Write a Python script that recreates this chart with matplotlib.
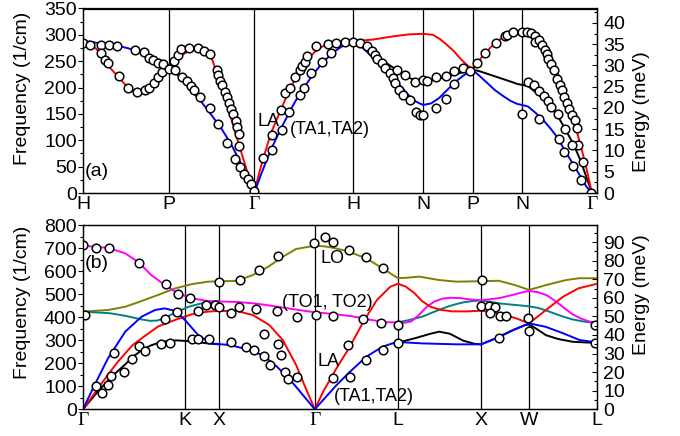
import matplotlib
matplotlib.use("Agg")
import matplotlib.pyplot as plt
from matplotlib.ticker import MultipleLocator

plt.rcParams['font.family'] = ['Liberation Sans', 'DejaVu Sans']

CM_PER_MEV = 8.0655

# ---------------- panel (a): BCC path ----------------
top_ticks = [0.0, 0.866, 1.732, 2.732, 3.439, 3.939, 4.439, 5.146]
top_labels = ['H', 'P', 'Γ', 'H', 'N', 'P', 'N', 'Γ']

top_la_x = [0.00, 0.07, 0.13, 0.18, 0.22, 0.28, 0.35, 0.42, 0.48, 0.55, 0.61, 0.67, 0.73, 0.78, 0.82, 0.866,
            0.93, 0.99, 1.06, 1.12, 1.19, 1.25, 1.30, 1.33, 1.38, 1.43, 1.48, 1.53, 1.58, 1.63, 1.68, 1.732,
            1.76, 1.79, 1.83, 1.87, 1.91, 1.96, 2.01, 2.06, 2.11, 2.16, 2.21, 2.27, 2.34, 2.41, 2.49, 2.59, 2.732,
            2.93, 3.13, 3.30, 3.439,
            3.54, 3.61, 3.68, 3.75, 3.81, 3.87, 3.939,
            3.99, 4.05, 4.12, 4.18, 4.25, 4.32, 4.39, 4.439,
            4.50, 4.56, 4.62, 4.68, 4.74, 4.80, 4.84, 4.88, 4.92, 4.96, 5.00, 5.04, 5.08, 5.11, 5.146]
top_la_y = [289, 283, 274, 263, 250, 236, 222, 207, 196, 191, 192, 198, 209, 222, 232, 242,
            252, 261, 268, 271, 271, 266, 257, 240, 212, 183, 152, 121, 90, 59, 28, 0,
            22, 44, 70, 95, 118, 140, 162, 184, 204, 221, 237, 253, 267, 277, 283, 287, 288,
            291, 297, 301, 302,
            300, 292, 281, 269, 256, 245, 234,
            248, 262, 276, 287, 296, 302, 305, 306,
            305, 300, 288, 270, 250, 228, 210, 186, 162, 138, 112, 84, 55, 30, 0]

top_ta_x = [0.00, 0.17, 0.36, 0.53, 0.63, 0.73, 0.80, 0.866,
            0.93, 1.00, 1.07, 1.14, 1.20, 1.27, 1.33, 1.39, 1.45, 1.51, 1.57, 1.63, 1.68, 1.732,
            1.80, 1.86, 1.92, 1.98, 2.05, 2.12, 2.19, 2.26, 2.33, 2.40, 2.47, 2.54, 2.61, 2.68, 2.732,
            2.80, 2.87, 2.94, 3.01, 3.08, 3.15, 3.22, 3.29, 3.36, 3.439,
            3.52, 3.60, 3.68, 3.76, 3.84, 3.939,
            4.01, 4.08, 4.16, 4.24, 4.32, 4.39, 4.439,
            4.50, 4.57, 4.65, 4.72, 4.79, 4.89, 4.99, 5.09, 5.146]
top_ta_y = [289, 284, 279, 271, 265, 257, 250, 242,
            229, 215, 200, 185, 172, 155, 140, 125, 107, 88, 66, 44, 23, 0,
            35, 64, 90, 114, 140, 165, 188, 207, 226, 242, 256, 268, 277, 284, 288,
            280, 268, 255, 243, 231, 216, 201, 186, 174, 167,
            170, 180, 195, 210, 222, 234,
            222, 210, 196, 185, 175, 169, 167,
            164, 153, 139, 124, 107, 75, 44, 12, 0]

top_ta1_x = [2.732, 2.80, 2.87, 2.94, 3.01, 3.08, 3.15, 3.22, 3.29, 3.36, 3.439,
             3.52, 3.60, 3.68, 3.76, 3.84, 3.939,
             4.01, 4.09, 4.17, 4.25, 4.33, 4.39, 4.439,
             4.50, 4.57, 4.64, 4.72, 4.80, 4.88, 4.96, 5.03, 5.09, 5.146]
top_ta1_y = [288, 281, 273, 264, 254, 245, 236, 227, 219, 214, 212,
             214, 217, 221, 225, 229, 234,
             231, 226, 221, 216, 211, 207, 205,
             203, 192, 181, 165, 146, 120, 92, 62, 30, 0]

top_obs_x = [0.00, 0.07, 0.18, 0.26, 0.34, 0.18, 0.22, 0.25, 0.36, 0.45, 0.55, 0.63, 0.67, 0.72, 0.76, 0.80,
             0.53, 0.62, 0.67, 0.71, 0.76, 0.81, 0.87,
             0.92, 0.96, 0.99, 1.07, 1.16, 1.22, 1.28, 1.35, 1.37, 1.39, 1.41, 1.44, 1.46, 1.48, 1.50, 1.52,
             1.55, 1.56, 1.58, 1.58,
             0.93, 1.00, 1.05, 1.09, 1.12, 1.18, 1.28, 1.36, 1.46, 1.54, 1.59, 1.63, 1.67, 1.70, 1.73,
             1.82, 1.91, 2.00, 2.04, 2.09, 2.14, 2.19, 2.21, 2.24, 2.26, 2.36, 2.48, 2.56, 2.65, 2.73,
             1.91, 2.01, 2.08, 2.19, 2.23, 2.31, 2.42, 2.51,
             2.80, 2.87, 2.92, 2.95, 2.97, 3.02, 3.05, 3.10, 3.13, 3.15, 3.20, 3.24, 3.31, 3.37, 3.41, 3.44,
             3.17, 3.26, 3.36, 3.44, 3.48,
             3.57, 3.67, 3.75, 3.57, 3.67, 3.75, 3.84, 3.91,
             3.98, 4.06, 4.18, 4.27, 4.29, 4.35, 4.44, 4.49, 4.53, 4.57, 4.57, 4.61, 4.64, 4.67, 4.69, 4.70,
             4.73, 4.76, 4.79, 4.82, 4.84, 4.86, 4.89, 4.91, 4.94, 4.97, 4.99, 5.00, 5.06,
             4.44, 4.50, 4.56, 4.61, 4.66, 4.70, 4.73, 4.80, 4.87, 4.94,
             4.61, 4.81, 4.86, 4.95, 5.04, 5.14]
top_obs_y = [285, 281, 281, 281, 278, 265, 252, 246, 222, 199, 192, 195, 199, 209, 220, 230,
             271, 267, 256, 252, 246, 245, 235,
             251, 262, 273, 276, 276, 269, 263, 233, 224, 213, 204, 192, 182, 170, 159, 149,
             137, 125, 112, 90,
             233, 221, 213, 203, 195, 182, 162, 131, 95, 64, 50, 36, 26, 17, 4,
             66, 110, 157, 189, 199, 221, 233, 240, 249, 259, 278, 283, 285, 287, 287,
             82, 120, 154, 186, 199, 227, 249, 265,
             285, 278, 270, 262, 254, 246, 237, 227, 218, 209, 195, 186, 176, 154, 148, 148,
             233, 224, 211, 214, 213,
             161, 178, 207, 220, 222, 232, 237, 232,
             247, 266, 284, 297, 300, 306, 306, 306, 304, 297, 286, 290, 280, 272, 263, 254,
             244, 233, 217, 205, 195, 182, 170, 160, 148, 138, 124, 92, 59,
             150, 211, 205, 194, 184, 174, 163, 149, 121, 92,
             140, 102, 78, 52, 24, 0]

# ---------------- panel (b): FCC path ----------------
bot_ticks = [0.0, 1.061, 1.414, 2.414, 3.280, 4.146, 4.646, 5.353]
bot_labels = ['Γ', 'K', 'X', 'Γ', 'L', 'X', 'W', 'L']

bot_lo_x = [0, 0.26, 0.44, 0.61, 0.78, 0.96, 1.13, 1.30, 1.414, 1.60, 1.77, 1.93, 2.08, 2.22, 2.414,
            2.52, 2.63, 2.77, 2.95, 3.12, 3.22, 3.280, 3.37, 3.50, 3.71, 3.89, 4.146, 4.33, 4.50, 4.646,
            4.82, 5.03, 5.17, 5.353]
bot_lo_y = [424, 431, 445, 470, 496, 525, 543, 554, 556, 557, 583, 619, 662, 696, 710,
            707, 699, 684, 655, 612, 585, 569, 571, 576, 561, 554, 556, 558, 539, 518,
            539, 561, 569, 569]

bot_to_x = [0, 0.26, 0.44, 0.58, 0.71, 0.85, 0.99, 1.13, 1.30, 1.414, 1.60, 1.80, 2.00, 2.20, 2.414,
            2.60, 2.80, 3.00, 3.15, 3.280, 3.36, 3.42, 3.50, 3.58, 3.66, 3.74, 3.82, 3.92, 4.03, 4.146,
            4.25, 4.35, 4.45, 4.55, 4.646, 4.74, 4.83, 4.92, 5.01, 5.10, 5.19, 5.28, 5.353]
bot_to_y = [710, 701, 677, 638, 583, 540, 503, 482, 470, 468, 466, 459, 447, 434, 421,
            414, 404, 388, 378, 377, 376, 382, 410, 445, 468, 480, 484, 483, 477, 473,
            478, 484, 494, 505, 514, 508, 495, 470, 440, 412, 393, 380, 376]

bot_to2a_x = [0, 0.28, 0.45, 0.61, 0.70, 0.77, 0.85, 0.96, 1.10, 1.27, 1.414]
bot_to2a_y = [424, 417, 405, 390, 384, 385, 396, 420, 445, 464, 471]
bot_to2b_x = [3.280, 3.37, 3.45, 3.54, 3.62, 3.71, 3.80, 3.89, 3.97, 4.06, 4.146, 4.25, 4.35, 4.45,
              4.55, 4.646, 4.74, 4.83, 4.92, 5.01, 5.10, 5.20, 5.28, 5.353]
bot_to2b_y = [378, 385, 393, 403, 417, 432, 446, 457, 465, 470, 472, 466, 459, 455,
              451, 447, 440, 428, 414, 401, 390, 382, 377, 375]

bot_la_x = [0, 0.13, 0.26, 0.36, 0.44, 0.52, 0.61, 0.78, 0.96, 1.13, 1.30, 1.414, 1.60, 1.77, 1.94,
            2.08, 2.22, 2.32, 2.414, 2.50, 2.64, 2.78, 2.92, 3.06, 3.20, 3.280, 3.36, 3.45, 3.53, 3.62,
            3.72, 3.85, 4.00, 4.146, 4.33, 4.51, 4.646, 4.80, 5.00, 5.16, 5.353]
bot_la_y = [0, 75, 150, 205, 243, 280, 308, 359, 388, 412, 424, 427, 427, 409, 366,
            301, 192, 91, 0, 76, 178, 272, 380, 474, 532, 545, 533, 505, 470, 445,
            432, 425, 425, 428, 417, 395, 373, 424, 489, 525, 545]

bot_ta_x = [0, 0.12, 0.26, 0.44, 0.61, 0.75, 0.85, 0.96, 1.061, 1.20, 1.34, 1.414, 1.53, 1.74, 1.88,
            2.02, 2.16, 2.29, 2.414, 2.50, 2.64, 2.78, 2.95, 3.12, 3.26, 3.280, 3.54, 3.89, 4.146,
            4.30, 4.48, 4.646, 4.82, 5.00, 5.17, 5.353]
bot_ta_y = [0, 105, 221, 337, 402, 431, 438, 427, 388, 322, 286, 283, 279, 257, 233,
            185, 127, 62, 0, 40, 105, 163, 228, 272, 291, 292, 286, 282, 282,
            308, 344, 373, 358, 330, 301, 290]

bot_ta1a_x = [0, 0.13, 0.26, 0.36, 0.44, 0.52, 0.61, 0.70, 0.78, 0.88, 0.98, 1.061, 1.20, 1.30, 1.414]
bot_ta1a_y = [0, 65, 125, 165, 195, 228, 256, 276, 288, 297, 299, 297, 291, 286, 282]
bot_ta1b_x = [3.280, 3.36, 3.47, 3.61, 3.71, 3.82, 3.96, 4.08, 4.146, 4.30, 4.48, 4.60, 4.646,
              4.72, 4.82, 4.95, 5.10, 5.25, 5.353]
bot_ta1b_y = [290, 298, 310, 327, 337, 328, 298, 284, 282, 308, 344, 365, 368,
              350, 322, 305, 293, 290, 289]

bot_obs_x = [0.00, 0.14, 0.27, 0.58, 0.86, 0.99, 1.11,
             0.02, 0.85, 0.98, 1.20, 1.28, 1.37, 1.42, 1.42, 1.54,
             0.32, 0.58, 0.65, 0.51, 0.43, 0.29, 0.26, 0.14, 0.20,
             0.81, 0.91, 1.13, 1.20, 1.31, 1.54,
             1.63, 1.83, 2.03, 2.41, 2.52, 2.60, 2.77, 2.95, 3.12,
             1.62, 1.80, 2.02, 2.23, 2.43, 2.60, 2.92, 3.10, 3.28,
             1.88, 2.03, 2.06, 2.10, 2.14, 2.23,
             1.70, 1.78, 1.88, 1.95,
             2.60, 2.78, 2.76, 2.95, 3.12, 3.28,
             4.16, 4.15, 4.23, 4.29, 4.24, 4.34, 4.41, 4.63, 4.65, 4.33, 5.33, 5.33]
bot_obs_y = [712, 702, 699, 637, 542, 500, 482,
             411, 390, 421, 427, 453, 452, 554, 445, 420,
             245, 276, 251, 218, 162, 146, 105, 103, 69,
             283, 286, 303, 304, 306, 293,
             562, 603, 665, 724, 746, 725, 690, 663, 612,
             445, 435, 428, 402, 409, 404, 392, 373, 368,
             326, 284, 236, 163, 130, 139,
             272, 257, 230, 192,
             137, 141, 280, 213, 259, 286,
             561, 448, 448, 445, 419, 406, 406, 398, 341, 310, 367, 286]

# ---------------- figure ----------------
fig = plt.figure(figsize=(6.8, 4.36), dpi=100)
ax1 = fig.add_axes([83 / 680, 1 - 193 / 436, 514 / 680, 184.5 / 436])
ax2 = fig.add_axes([83 / 680, 1 - 409.3 / 436, 514 / 680, 184.3 / 436])

LW = 1.4
mk = dict(linestyle='none', marker='o', ms=6.2, mfc='white', mec='black', mew=1.1, zorder=6)


def style_axes(ax, ticks, labels, xmax, ymax, ymaj, ymin, emax, emaj, emin):
    ax.set_xlim(0, xmax)
    ax.set_ylim(0, ymax)
    ax.set_xticks(ticks)
    ax.set_xticklabels(labels)
    for lab in ax.get_xticklabels():
        if lab.get_text() == 'Γ':
            lab.set_fontfamily(['Liberation Serif', 'DejaVu Serif'])
    ax.yaxis.set_major_locator(MultipleLocator(ymaj))
    ax.yaxis.set_minor_locator(MultipleLocator(ymin))
    ax.tick_params(axis='x', length=0, pad=2, labelsize=14)
    ax.tick_params(axis='y', which='major', direction='out', length=3.5, width=0.8, labelsize=14, pad=1)
    ax.tick_params(axis='y', which='minor', direction='out', length=2, width=0.8)
    for s in ax.spines.values():
        s.set_linewidth(0.9)
    for t in ticks[1:-1]:
        ax.axvline(t, color='black', lw=0.9, zorder=1)
    axr = ax.twinx()
    axr.set_ylim(0, emax)
    axr.yaxis.set_major_locator(MultipleLocator(emaj))
    axr.yaxis.set_minor_locator(MultipleLocator(emin))
    axr.tick_params(axis='y', which='major', direction='in', length=3.5, width=0.8, labelsize=14, pad=4.5)
    axr.tick_params(axis='y', which='minor', direction='in', length=2, width=0.8)
    for s in axr.spines.values():
        s.set_linewidth(0.9)
    return axr


style_axes(ax1, top_ticks, top_labels, 5.197, 350, 50, 25, 350 / CM_PER_MEV, 5, 2.5)
style_axes(ax2, bot_ticks, bot_labels, 5.353, 800, 100, 50, 800 / CM_PER_MEV, 10, 5)

# panel (a)
ax1.plot(top_ta1_x, top_ta1_y, color='black', lw=LW, zorder=3)
ax1.plot(top_la_x, top_la_y, color='#ff0000', lw=LW, zorder=3)
ax1.plot(top_ta_x, top_ta_y, color='#0000ff', lw=LW, zorder=4)
ax1.plot(top_obs_x, top_obs_y, **mk)
ax1.text(0.02, 40, '(a)', fontsize=14, va='center', ha='left')
ax1.text(1.76, 135, 'LA', fontsize=13, va='center', ha='left', zorder=7)
ax1.text(2.09, 120, '(TA1,TA2)', fontsize=13, va='center', ha='left', zorder=7)

# panel (b)
ax2.plot(bot_lo_x, bot_lo_y, color='#808000', lw=LW, zorder=3)
ax2.plot(bot_to2a_x, bot_to2a_y, color='#008080', lw=LW, zorder=3)
ax2.plot(bot_to2b_x, bot_to2b_y, color='#008080', lw=LW, zorder=3)
ax2.plot(bot_to_x, bot_to_y, color='#ff00ff', lw=LW, zorder=3)
ax2.plot(bot_ta1a_x, bot_ta1a_y, color='black', lw=LW, zorder=3)
ax2.plot(bot_ta1b_x, bot_ta1b_y, color='black', lw=LW, zorder=3)
ax2.plot(bot_la_x, bot_la_y, color='#ff0000', lw=LW, zorder=3)
ax2.plot(bot_ta_x, bot_ta_y, color='#0000ff', lw=LW, zorder=4)
ax2.plot(bot_obs_x, bot_obs_y, **mk)
ax2.text(0.02, 634, '(b)', fontsize=14, va='center', ha='left')
ax2.text(2.47, 655, 'LO', fontsize=13, va='center', ha='left', zorder=7)
ax2.text(2.07, 464, '(TO1, TO2)', fontsize=13, va='center', ha='left', zorder=7)
ax2.text(2.44, 207, 'LA', fontsize=13, va='center', ha='left', zorder=7)
ax2.text(2.61, 55, '(TA1,TA2)', fontsize=13, va='center', ha='left', zorder=7)

# axis titles
fig.text(23 / 680, 1 - 88.5 / 436, 'Frequency (1/cm)', rotation=90, ha='center', va='center', fontsize=14)
fig.text(23 / 680, 1 - 302 / 436, 'Frequency (1/cm)', rotation=90, ha='center', va='center', fontsize=14)
fig.text(642 / 680, 1 - 112 / 436, 'Energy (meV)', rotation=90, ha='center', va='center', fontsize=14)
fig.text(642 / 680, 1 - 295 / 436, 'Energy (meV)', rotation=90, ha='center', va='center', fontsize=14)

fig.savefig('out.png', dpi=100)
